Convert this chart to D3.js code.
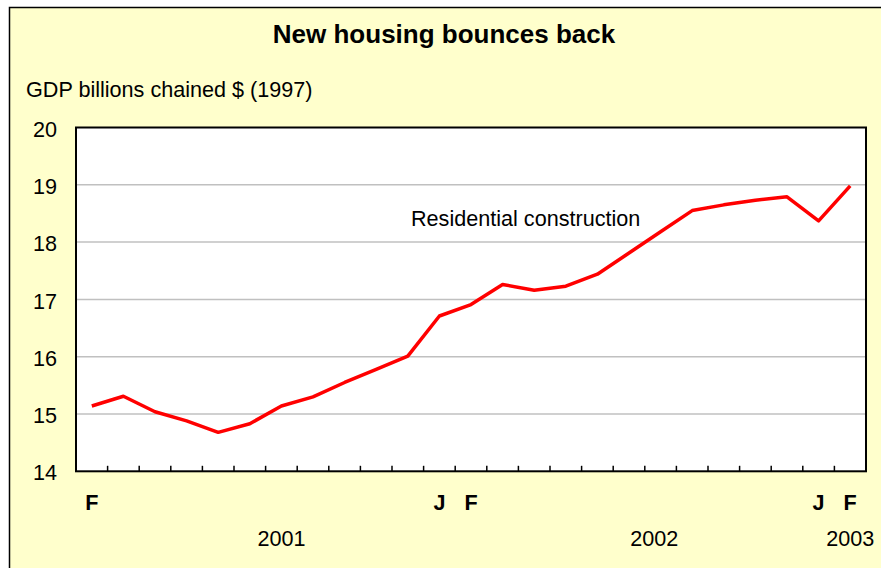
<!DOCTYPE html>
<html>
<head>
<meta charset="utf-8">
<script src="https://cdn.jsdelivr.net/npm/d3@7"></script>
<style>
  html, body { margin: 0; padding: 0; background: #fff; }
  svg { display: block; }
</style>
</head>
<body>
<div id="chart"></div>
<script>
// Monthly, Feb 2001 .. Feb 2003
const months = ['2001-02','2001-03','2001-04','2001-05','2001-06','2001-07','2001-08','2001-09','2001-10','2001-11','2001-12',
  '2002-01','2002-02','2002-03','2002-04','2002-05','2002-06','2002-07','2002-08','2002-09','2002-10','2002-11','2002-12',
  '2003-01','2003-02']
const monthLabels = ['F','','','','','','','','','','','J','F','','','','','','','','','','','J','F']
const residential = [15.14, 15.31, 15.04, 14.88, 14.68, 14.83, 15.14, 15.30, 15.55, 15.78, 16.01,
  16.71, 16.91, 17.26, 17.16, 17.23, 17.44, 17.81, 18.18, 18.55, 18.65, 18.73, 18.79, 18.37, 18.98]
const yearLabels = ['2001', '2002', '2003']
const yearPos = [6, 17.8, 24]   // month index under which each year sits
const yTicks = [14, 15, 16, 17, 18, 19, 20]

const W = 881, H = 568
const plot = { left: 76, right: 866, top: 127.5, bottom: 471.3 }
const font = 'Arial, "Liberation Sans", sans-serif'
const fs = '21.6px'

const svg = d3.select('#chart').append('svg')
  .attr('width', W).attr('height', H)

// Frame
svg.append('rect')
  .attr('x', 9.5).attr('y', 7.5).attr('width', W + 20).attr('height', H + 20)
  .attr('fill', '#FFFFCC').attr('stroke', '#000').attr('stroke-width', 1.5)

const x = d3.scaleBand().domain(months).range([plot.left, plot.right]).padding(0)
const xIdx = d3.scaleLinear().domain([-0.5, months.length - 0.5]).range([plot.left, plot.right])
const y = d3.scaleLinear().domain([14, 20]).range([plot.bottom, plot.top])

// Plot area
svg.append('rect')
  .attr('x', plot.left).attr('y', plot.top)
  .attr('width', plot.right - plot.left).attr('height', plot.bottom - plot.top)
  .attr('fill', '#fff')

// Gridlines
svg.append('g')
  .selectAll('line')
  .data(yTicks.filter(d => d > 14 && d < 20))
  .join('line')
  .attr('x1', plot.left).attr('x2', plot.right)
  .attr('y1', d => y(d)).attr('y2', d => y(d))
  .attr('stroke', '#C0C0C0').attr('stroke-width', 1.5)

// Plot border
svg.append('rect')
  .attr('x', plot.left).attr('y', plot.top)
  .attr('width', plot.right - plot.left).attr('height', plot.bottom - plot.top)
  .attr('fill', 'none').attr('stroke', '#000').attr('stroke-width', 2)

// Inner tick marks at month boundaries
svg.append('g')
  .selectAll('line')
  .data(months.slice(1))
  .join('line')
  .attr('x1', d => x(d)).attr('x2', d => x(d))
  .attr('y1', plot.bottom).attr('y2', plot.bottom - 5.5)
  .attr('stroke', '#000').attr('stroke-width', 1.5)

// Y axis labels
svg.append('g')
  .attr('transform', `translate(${plot.left},0)`)
  .call(d3.axisLeft(y).tickValues(yTicks).tickFormat(d3.format('d')).tickSize(0).tickPadding(19))
  .call(g => {
    g.select('.domain').remove()
    g.selectAll('.tick text')
      .attr('fill', '#000').attr('font-size', fs)
      .attr('font-family', font).attr('dy', '0.4em')
  })

// X axis month labels
svg.append('g')
  .attr('transform', `translate(0,${plot.bottom})`)
  .call(d3.axisBottom(x).tickSize(0).tickPadding(0)
    .tickFormat((d, i) => monthLabels[i]))
  .call(g => {
    g.select('.domain').remove()
    g.selectAll('.tick text')
      .attr('fill', '#000').attr('font-size', fs).attr('font-weight', 'bold')
      .attr('font-family', font).attr('y', 39).attr('dy', 0)
  })

// Year labels
svg.append('g')
  .selectAll('text')
  .data(yearLabels)
  .join('text')
  .attr('x', (d, i) => xIdx(yearPos[i]))
  .attr('y', 546)
  .attr('text-anchor', 'middle')
  .attr('fill', '#000').attr('font-size', fs)
  .attr('font-family', font)
  .text(d => d)

// Line
const line = d3.line()
  .x((d, i) => x(months[i]) + x.bandwidth() / 2)
  .y(d => y(d))

svg.append('path')
  .datum(residential)
  .attr('d', line)
  .attr('fill', 'none')
  .attr('stroke', '#FF0000').attr('stroke-width', 3.5)
  .attr('stroke-linejoin', 'round')

// Series label
svg.append('text')
  .attr('x', 411).attr('y', 226)
  .attr('fill', '#000').attr('font-size', fs)
  .attr('font-family', font)
  .text('Residential construction')

// Title
svg.append('text')
  .attr('x', 444).attr('y', 43)
  .attr('text-anchor', 'middle')
  .attr('fill', '#000').attr('font-size', '26px').attr('font-weight', 'bold')
  .attr('font-family', font)
  .text('New housing bounces back')

// Unit label
svg.append('text')
  .attr('x', 26).attr('y', 97)
  .attr('fill', '#000').attr('font-size', fs)
  .attr('font-family', font)
  .text('GDP billions chained $ (1997)')
</script>
</body>
</html>
